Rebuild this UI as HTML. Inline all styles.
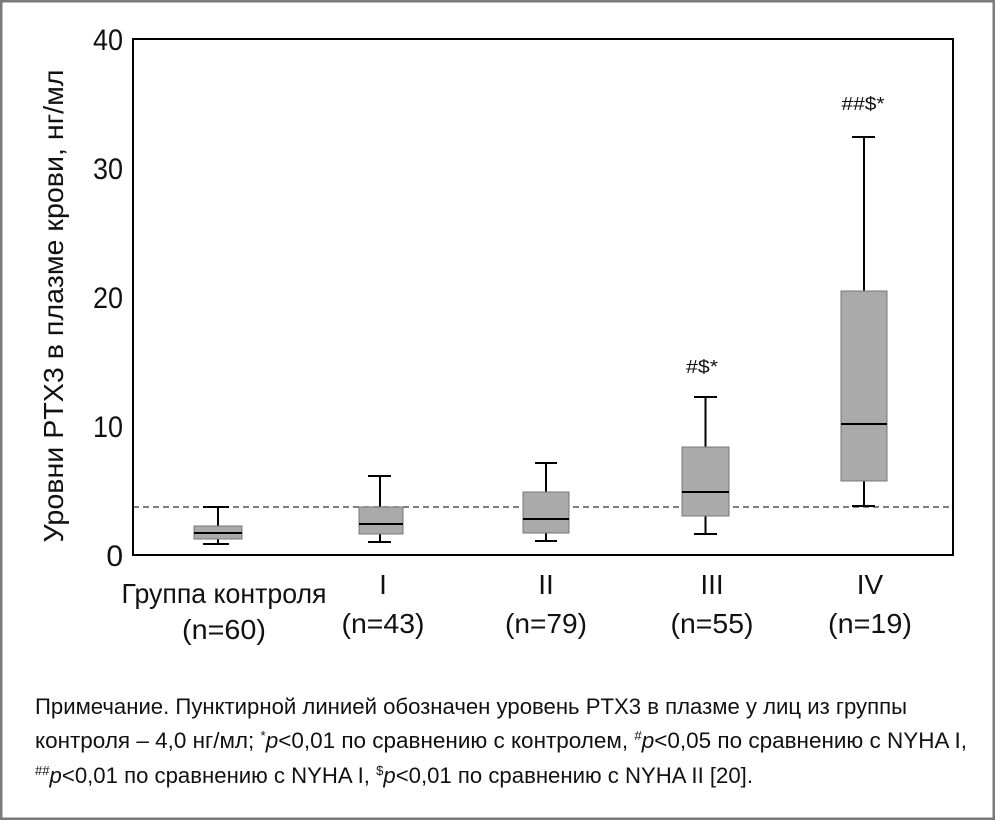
<!DOCTYPE html>
<html><head><meta charset="utf-8"><style>
html,body{margin:0;padding:0;background:#fff;}
svg{display:block;}
text{font-family:"Liberation Sans",Arial,sans-serif;fill:#111;}
</style></head><body>
<svg width="995" height="820" viewBox="0 0 995 820" xmlns="http://www.w3.org/2000/svg">
<rect x="1.25" y="1.25" width="992.5" height="817.5" fill="#fff" stroke="#7a7a7a" stroke-width="2.5"/>

<!-- dashed reference line -->
<line x1="133" y1="507" x2="952" y2="507" stroke="#555" stroke-width="1.5" stroke-dasharray="6,4"/>

<!-- Control -->
<g stroke="#000" stroke-width="2">
<line x1="218" y1="507" x2="218" y2="544"/>
<line x1="203" y1="507" x2="229" y2="507"/>
<line x1="203" y1="544" x2="229" y2="544"/>
</g>
<rect x="194" y="526" width="48" height="13" fill="#aaa" stroke="#777" stroke-width="1"/>
<line x1="194" y1="533" x2="242" y2="533" stroke="#000" stroke-width="2"/>

<!-- I -->
<g stroke="#000" stroke-width="2">
<line x1="380" y1="476" x2="380" y2="542"/>
<line x1="368" y1="476" x2="391" y2="476"/>
<line x1="368" y1="542" x2="391" y2="542"/>
</g>
<rect x="359" y="507" width="44" height="27" fill="#aaa" stroke="#777" stroke-width="1"/>
<line x1="359" y1="524" x2="403" y2="524" stroke="#000" stroke-width="2"/>

<!-- II -->
<g stroke="#000" stroke-width="2">
<line x1="546" y1="463" x2="546" y2="541"/>
<line x1="535" y1="463" x2="557" y2="463"/>
<line x1="535" y1="541" x2="557" y2="541"/>
</g>
<rect x="523" y="492" width="46" height="41" fill="#aaa" stroke="#777" stroke-width="1"/>
<line x1="523" y1="519" x2="569" y2="519" stroke="#000" stroke-width="2"/>

<!-- III -->
<g stroke="#000" stroke-width="2">
<line x1="705.5" y1="397" x2="705.5" y2="534"/>
<line x1="694" y1="397" x2="717" y2="397"/>
<line x1="694" y1="534" x2="717" y2="534"/>
</g>
<rect x="682" y="447" width="47" height="69" fill="#aaa" stroke="#777" stroke-width="1"/>
<line x1="682" y1="492" x2="729" y2="492" stroke="#000" stroke-width="2"/>

<!-- IV -->
<g stroke="#000" stroke-width="2">
<line x1="864" y1="137" x2="864" y2="506"/>
<line x1="852" y1="137" x2="875" y2="137"/>
<line x1="852" y1="506" x2="875" y2="506"/>
</g>
<rect x="841" y="291" width="46" height="190" fill="#aaa" stroke="#777" stroke-width="1"/>
<line x1="841" y1="424" x2="887" y2="424" stroke="#000" stroke-width="2"/>

<!-- plot frame -->
<rect x="133" y="39" width="820" height="516" fill="none" stroke="#000" stroke-width="2"/>

<!-- significance marks -->
<text x="702" y="373" font-size="18" text-anchor="middle" textLength="32" lengthAdjust="spacingAndGlyphs">#$*</text>
<text x="863" y="110" font-size="18" text-anchor="middle" textLength="43" lengthAdjust="spacingAndGlyphs">##$*</text>

<!-- y tick labels -->
<g font-size="30" text-anchor="end">
<text x="123" y="50" textLength="30" lengthAdjust="spacingAndGlyphs">40</text>
<text x="123" y="179" textLength="30" lengthAdjust="spacingAndGlyphs">30</text>
<text x="123" y="308" textLength="30" lengthAdjust="spacingAndGlyphs">20</text>
<text x="123" y="437" textLength="30" lengthAdjust="spacingAndGlyphs">10</text>
<text x="123" y="566">0</text>
</g>

<!-- y axis title -->
<text transform="translate(63,306) rotate(-90)" font-size="28" text-anchor="middle" textLength="473" lengthAdjust="spacingAndGlyphs">Уровни PTX3 в плазме крови, нг/мл</text>

<!-- x labels -->
<g font-size="28" text-anchor="middle">
<text x="224" y="603" textLength="205" lengthAdjust="spacingAndGlyphs">Группа контроля</text>
<text x="224" y="639" textLength="84" lengthAdjust="spacingAndGlyphs">(n=60)</text>
<text x="383" y="594">I</text>
<text x="383" y="633" textLength="83" lengthAdjust="spacingAndGlyphs">(n=43)</text>
<text x="546" y="594">II</text>
<text x="546" y="633" textLength="82" lengthAdjust="spacingAndGlyphs">(n=79)</text>
<text x="712" y="594">III</text>
<text x="712" y="633" textLength="83" lengthAdjust="spacingAndGlyphs">(n=55)</text>
<text x="870" y="594">IV</text>
<text x="870" y="633" textLength="84" lengthAdjust="spacingAndGlyphs">(n=19)</text>
</g>

<!-- footnote -->
<g font-size="22" fill="#1a1a1a">
<text x="35" y="714" textLength="872" lengthAdjust="spacingAndGlyphs">Примечание. Пунктирной линией обозначен уровень PTX3 в плазме у лиц из группы</text>
<text x="35" y="748" textLength="932" lengthAdjust="spacingAndGlyphs">контроля – 4,0 нг/мл; <tspan font-size="13" dy="-8">*</tspan><tspan font-style="italic" dy="8">p</tspan>&lt;0,01 по сравнению с контролем, <tspan font-size="13" dy="-8">#</tspan><tspan font-style="italic" dy="8">p</tspan>&lt;0,05 по сравнению с NYHA I,</text>
<text x="35" y="783" textLength="718" lengthAdjust="spacingAndGlyphs"><tspan font-size="13" dy="-8">##</tspan><tspan font-style="italic" dy="8">p</tspan>&lt;0,01 по сравнению с NYHA I, <tspan font-size="13" dy="-8">$</tspan><tspan font-style="italic" dy="8">p</tspan>&lt;0,01 по сравнению с NYHA II [20].</text>
</g>
</svg>
</body></html>
